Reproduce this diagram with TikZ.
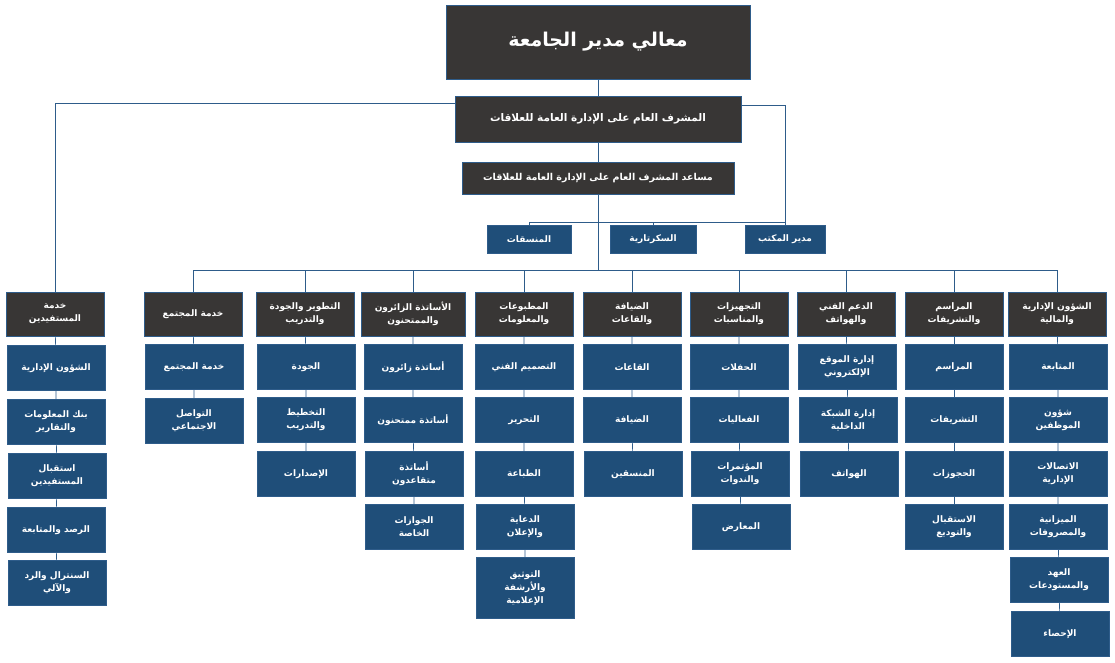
\documentclass[tikz,border=0pt]{standalone}
\usepackage{fontspec}
\TeXXeTstate=1
\newfontfamily\arabicfont[Script=Arabic]{DejaVu Sans}
\newcommand{\ar}[1]{{\arabicfont\beginR #1\endR}}
\definecolor{darkbox}{HTML}{383635}
\definecolor{bluebox}{HTML}{1F4E79}
\definecolor{blueline}{HTML}{2E5C8A}
\definecolor{shadowc}{HTML}{D9D9D9}
\begin{document}
\begin{tikzpicture}[x=1pt,y=-1pt,
  base/.style={draw=blueline,line width=0.8pt,text=white,align=center,inner sep=1pt,font=\bfseries\fontsize{9}{13}\selectfont},
  head/.style={base,fill=darkbox,minimum width=98pt,minimum height=44pt},
  sub/.style={base,fill=bluebox,minimum width=98pt,minimum height=45pt},
  conn/.style={draw=blueline,line width=0.6pt}]
\useasboundingbox (0,0) rectangle (1115,662);
% top
\node[base,fill=darkbox,minimum width=304pt,minimum height=74pt,font=\bfseries\fontsize{19}{22}\selectfont] (top) at (598,42) {\ar{معالي مدير الجامعة}};
\node[base,fill=darkbox,minimum width=286pt,minimum height=46pt,font=\bfseries\fontsize{10.5}{13}\selectfont] (l1) at (598,119) {\ar{المشرف العام على الإدارة العامة للعلاقات}};
\node[base,fill=darkbox,minimum width=272pt,minimum height=32pt,font=\bfseries\fontsize{9.5}{12}\selectfont] (l2) at (598,178) {\ar{مساعد المشرف العام على الإدارة العامة للعلاقات}};
\node[base,fill=bluebox,minimum width=84pt,minimum height=28pt] (s1) at (529,239) {\ar{المنسقات}};
\node[base,fill=bluebox,minimum width=86pt,minimum height=28pt] (s2) at (653,239) {\ar{السكرتارية}};
\node[base,fill=bluebox,minimum width=80pt,minimum height=28pt] (s3) at (785,239) {\ar{مدير المكتب}};
\draw[conn] (top.south) -- (l1.north);
\draw[conn] (l1.south) -- (l2.north);
\draw[conn] ([yshift=14pt]l1.east) -| (s3.north);
\coordinate (b2) at (s3.north |- 0,222);
\draw[conn] (s1.north) |- (b2);
\draw[conn] (s2.north) -- (s2.north |- 0,222);
% columns headers
\node[head] (h1) at (55,314) {\ar{خدمة}\\\ar{المستفيدين}};
\node[head] (h2) at (193,314) {\ar{خدمة المجتمع}};
\node[head] (h3) at (305,314) {\ar{التطوير والجودة}\\\ar{والتدريب}};
\node[head,minimum width=104pt] (h4) at (413,314) {\ar{الأساتذة الزائرون}\\\ar{والممتحنون}};
\node[head] (h5) at (524,314) {\ar{المطبوعات}\\\ar{والمعلومات}};
\node[head] (h6) at (632,314) {\ar{الضيافة}\\\ar{والقاعات}};
\node[head] (h7) at (739,314) {\ar{التجهيزات}\\\ar{والمناسبات}};
\node[head] (h8) at (846,314) {\ar{الدعم الفني}\\\ar{والهواتف}};
\node[head] (h9) at (954,314) {\ar{المراسم}\\\ar{والتشريفات}};
\node[head] (h10) at (1057,314) {\ar{الشؤون الإدارية}\\\ar{والمالية}};
\draw[conn] ([yshift=16pt]l1.west) -| (h1.north);
\draw[conn] (l2.south) -- (l2.south |- 0,270);
\draw[conn] (h2.north |- 0,270) -- (h10.north |- 0,270);
\foreach \h in {h2,h3,h4,h5,h6,h7,h8,h9,h10} \draw[conn] (\h.north |- 0,270) -- (\h.north);
% column 1
\node[sub] (a1) at (56,368) {\ar{الشؤون الإدارية}};
\node[sub] (a2) at (56,422) {\ar{بنك المعلومات}\\\ar{والتقارير}};
\node[sub] (a3) at (57,476) {\ar{استقبال}\\\ar{المستفيدين}};
\node[sub] (a4) at (56,530) {\ar{الرصد والمتابعة}};
\node[sub] (a5) at (57,583) {\ar{السنترال والرد}\\\ar{والآلي}};
\draw[conn] (h1)--(a1) (a1)--(a2) (a2)--(a3) (a3)--(a4) (a4)--(a5);
% column 2
\node[sub] (b1) at (194,367) {\ar{خدمة المجتمع}};
\node[sub] (bb2) at (194,421) {\ar{التواصل}\\\ar{الاجتماعي}};
\draw[conn] (h2)--(b1) (b1)--(bb2);
% column 3
\node[sub] (c1) at (306,367) {\ar{الجودة}};
\node[sub] (c2) at (306,420) {\ar{التخطيط}\\\ar{والتدريب}};
\node[sub] (c3) at (306,474) {\ar{الإصدارات}};
\draw[conn] (h3)--(c1) (c1)--(c2) (c2)--(c3);
% column 4
\node[sub] (d1) at (413,367) {\ar{أساتذة زائرون}};
\node[sub] (d2) at (413,420) {\ar{أساتذة ممتحنون}};
\node[sub] (d3) at (414,474) {\ar{أساتذة}\\\ar{متقاعدون}};
\node[sub] (d4) at (414,527) {\ar{الجوازات}\\\ar{الخاصة}};
\draw[conn] (h4)--(d1) (d1)--(d2) (d2)--(d3) (d3)--(d4);
% column 5
\node[sub] (e1) at (524,367) {\ar{التصميم الفني}};
\node[sub] (e2) at (524,420) {\ar{التحرير}};
\node[sub] (e3) at (524,474) {\ar{الطباعة}};
\node[sub] (e4) at (525,527) {\ar{الدعاية}\\\ar{والإعلان}};
\node[sub,minimum height=61pt] (e5) at (525,588) {\ar{التوثيق}\\\ar{والأرشفة}\\\ar{الإعلامية}};
\draw[conn] (h5)--(e1) (e1)--(e2) (e2)--(e3) (e3)--(e4) (e4)--(e5);
% column 6
\node[sub] (f1) at (632,367) {\ar{القاعات}};
\node[sub] (f2) at (632,420) {\ar{الضيافة}};
\node[sub] (f3) at (633,474) {\ar{المنسقين}};
\draw[conn] (h6)--(f1) (f1)--(f2) (f2)--(f3);
% column 7
\node[sub] (g1) at (739,367) {\ar{الحفلات}};
\node[sub] (g2) at (739,420) {\ar{الفعاليات}};
\node[sub] (g3) at (740,474) {\ar{المؤتمرات}\\\ar{والندوات}};
\node[sub] (g4) at (741,527) {\ar{المعارض}};
\draw[conn] (h7)--(g1) (g1)--(g2) (g2)--(g3) (g3)--(g4);
% column 8
\node[sub] (k1) at (847,367) {\ar{إدارة الموقع}\\\ar{الإلكتروني}};
\node[sub] (k2) at (848,420) {\ar{إدارة الشبكة}\\\ar{الداخلية}};
\node[sub] (k3) at (849,474) {\ar{الهواتف}};
\draw[conn] (h8)--(k1) (k1)--(k2) (k2)--(k3);
% column 9
\node[sub] (m1) at (954,367) {\ar{المراسم}};
\node[sub] (m2) at (954,420) {\ar{التشريفات}};
\node[sub] (m3) at (954,474) {\ar{الحجوزات}};
\node[sub] (m4) at (954,527) {\ar{الاستقبال}\\\ar{والتوديع}};
\draw[conn] (h9)--(m1) (m1)--(m2) (m2)--(m3) (m3)--(m4);
% column 10
\node[sub] (n1) at (1058,367) {\ar{المتابعة}};
\node[sub] (n2) at (1058,420) {\ar{شؤون}\\\ar{الموظفين}};
\node[sub] (n3) at (1058,474) {\ar{الاتصالات}\\\ar{الإدارية}};
\node[sub] (n4) at (1058,527) {\ar{الميزانية}\\\ar{والمصروفات}};
\node[sub] (n5) at (1059,580) {\ar{العهد}\\\ar{والمستودعات}};
\node[sub] (n6) at (1060,634) {\ar{الإحصاء}};
\draw[conn] (h10)--(n1) (n1)--(n2) (n2)--(n3) (n3)--(n4) (n4)--(n5) (n5)--(n6);
\end{tikzpicture}
\end{document}
